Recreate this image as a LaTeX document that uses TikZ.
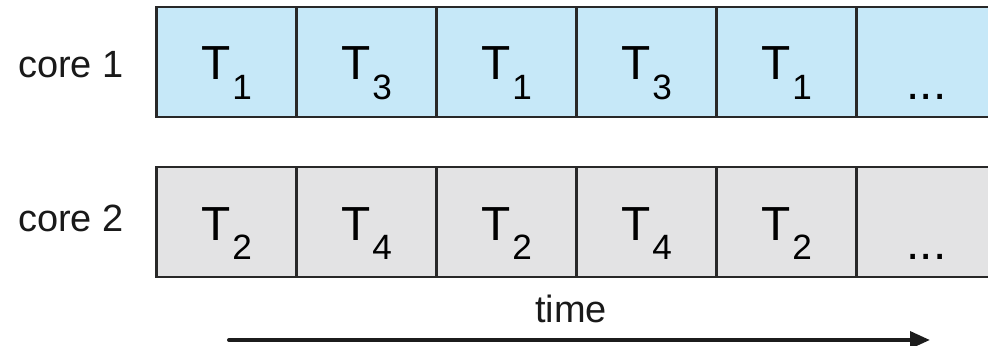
\documentclass[tikz,border=0pt]{standalone}
\usepackage{fontspec}
\setmainfont{Liberation Sans}
\usetikzlibrary{arrows.meta}
\definecolor{coreblue}{RGB}{198,232,248}
\definecolor{coregray}{RGB}{227,227,228}
\definecolor{edge}{RGB}{40,40,40}
\newcommand{\task}[1]{T\hspace{0.05cm}\raisebox{-0.475cm}{\fontsize{25}{25}\selectfont #1}}
\newcommand{\more}{\raisebox{-0.475cm}{...}}
\begin{document}
\begin{tikzpicture}[x=0.025cm, y=-0.025cm, line cap=round, >={Triangle[length=0.5cm, width=0.42cm]},
	slot/.style={draw=edge, line width=1.9pt, minimum width=3.5cm, minimum height=2.75cm, inner sep=0pt, text height=1.2cm, text depth=0.3cm, font=\fontsize{34}{34}\selectfont},
	tag/.style={anchor=base, text=black!90, font=\fontsize{27}{27}\selectfont}]
	\useasboundingbox (0,0) rectangle (988,346);
	% core 1 and core 2 time slices
	\foreach \lab [count=\i] in {\task{1},\task{3},\task{1},\task{3},\task{1},\more}
		\node[slot, fill=coreblue] (a\i) at ({86.5+140*\i},62) {\lab};
	\foreach \lab [count=\i] in {\task{2},\task{4},\task{2},\task{4},\task{2},\more}
		\node[slot, fill=coregray] (b\i) at ({86.5+140*\i},222) {\lab};
	\node[tag] (core1) at (71,78) {core 1};
	\node[tag] (core2) at (71,232) {core 2};
	% time axis
	\node[tag] (time) at (571,323) {time};
	\coordinate (t0) at (229,340);
	\coordinate (t1) at (930,340);
	\draw[->, line width=0.1cm, edge!70!black] (t0) -- (t1);
\end{tikzpicture}
\end{document}
